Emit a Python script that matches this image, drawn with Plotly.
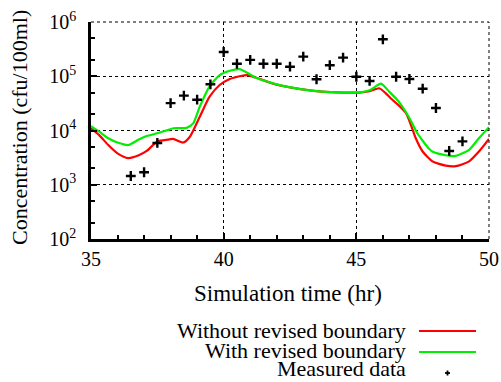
import plotly.graph_objects as go

# ---- data ----
time_without = [35.0, 35.3, 35.65, 36.0, 36.4, 36.8, 37.1, 37.5, 37.9, 38.1, 38.47, 38.72,
                39.1, 39.47, 39.85, 40.23, 40.6, 40.9, 41.2, 42.0, 42.9, 43.7, 44.5, 45.1,
                45.5, 45.86, 46.1, 46.3, 46.6, 46.87, 47.06, 47.24, 47.5, 47.87, 48.37,
                48.75, 49.25, 49.62, 50.0]
conc_without = [11000, 8300, 5400, 3800, 3100, 3500, 4200, 6300, 6800, 7000, 6000, 7600,
                18000, 42000, 69000, 89000, 100000, 105000, 95000, 70000, 58000, 52000, 50000, 50000,
                53000, 60000, 49000, 39000, 29000, 21000, 12600, 7200, 4100, 2700, 2250,
                2200, 2700, 4100, 7000]

time_with = [35.0, 35.3, 35.65, 36.0, 36.4, 36.8, 37.1, 37.5, 37.9, 38.1, 38.6, 38.85,
             39.1, 39.47, 39.85, 40.23, 40.6, 40.9, 41.2, 42.0, 42.9, 43.7, 44.5, 45.1,
             45.5, 45.93, 46.24, 46.6, 47.0, 47.3, 47.74, 47.9, 48.37, 48.75, 49.25,
             49.62, 50.0]
conc_with = [12000, 9600, 7200, 6000, 5400, 6800, 7900, 8900, 10200, 11000, 11200, 13500,
             27500, 65000, 105000, 126000, 135000, 115000, 95000, 71000, 58000, 52000, 50000, 50000,
             55000, 73000, 52000, 34000, 17000, 8900, 4600, 4000, 3500, 3400, 4400,
             7200, 11500]

time_measured = [36.5, 37.0, 37.5, 38.0, 38.5, 39.0, 39.5, 40.0, 40.5, 41.0, 41.5, 42.0, 42.5,
                 43.0, 43.5, 44.0, 44.5, 45.0, 45.5, 46.0, 46.5, 47.0, 47.5, 48.0, 48.5, 49.0]
conc_measured = [1450, 1700, 5900, 32000, 44000, 37000, 71000, 280000, 170000, 200000, 170000,
                 170000, 150000, 230000, 88000, 160000, 220000, 98000, 82000, 480000, 98000,
                 89000, 59000, 26000, 4200, 6300]

x_ticks = [35, 40, 45, 50]
x_minor = [36, 37, 38, 39, 41, 42, 43, 44, 46, 47, 48, 49]
y_ticks = [1e2, 1e3, 1e4, 1e5, 1e6]
y_ticktext = ["10<sup>2</sup>", "10<sup>3</sup>", "10<sup>4</sup>", "10<sup>5</sup>", "10<sup>6</sup>"]
y_minor = [2e2, 5e2, 2e3, 5e3, 2e4, 5e4, 2e5, 5e5]

legend_labels = ["Without revised boundary", "With revised boundary", "Measured data"]
x_title = "Simulation time (hr)"
y_title = "Concentration (cfu/100ml)"

FONT = "Liberation Serif"
RED = "#ff0000"
GREEN = "#00ee00"

fig = go.Figure()
fig.add_trace(go.Scatter(x=time_without, y=conc_without, mode="lines",
                         line=dict(color=RED, width=2.2, shape="spline", smoothing=0.6),
                         showlegend=False))
fig.add_trace(go.Scatter(x=time_with, y=conc_with, mode="lines",
                         line=dict(color=GREEN, width=2.2, shape="spline", smoothing=0.6),
                         showlegend=False))
fig.add_trace(go.Scatter(x=time_measured, y=conc_measured, mode="markers",
                         marker=dict(symbol="cross-thin", size=7, color="black",
                                     line=dict(color="black", width=2.4)),
                         showlegend=False))

fig.update_xaxes(range=[35, 50], tickvals=x_ticks, ticks="inside", ticklen=6, tickwidth=1.5,
                 tickcolor="black", showline=True, linecolor="black", linewidth=2.5,
                 showgrid=True, gridcolor="black", griddash="dot", gridwidth=1,
                 zeroline=False, automargin=False,
                 tickfont=dict(family=FONT, size=20, color="black"),
                 minor=dict(tickvals=x_minor, ticks="inside", ticklen=4, tickwidth=1.5,
                            tickcolor="black", showgrid=False))
fig.update_yaxes(type="log", range=[2, 6], tickvals=y_ticks, ticktext=y_ticktext,
                 ticks="inside", ticklen=6, tickwidth=1.5, tickcolor="black",
                 showline=True, linecolor="black", linewidth=2.5,
                 showgrid=True, gridcolor="black", griddash="dot", gridwidth=1,
                 zeroline=False, automargin=False,
                 tickfont=dict(family=FONT, size=20, color="black"),
                 ticklabelstandoff=8,
                 minor=dict(tickvals=y_minor, ticks="inside", ticklen=4, tickwidth=1.5,
                            tickcolor="black", showgrid=False))

# plot area geometry (px): x 91..489, y 22..239
def px_x(p):
    return (p - 91) / 398.0

def px_y(p):
    return (239 - p) / 217.0

annotations = [
    dict(text=x_title, x=px_x(288), y=px_y(293), xref="paper", yref="paper",
         xanchor="center", yanchor="middle", showarrow=False,
         font=dict(family=FONT, size=23, color="black")),
    dict(text=y_title, x=px_x(19), y=px_y(128), xref="paper", yref="paper",
         xanchor="center", yanchor="middle", showarrow=False, textangle=-90,
         font=dict(family=FONT, size=22, color="black")),
]
rows = [330, 350, 368]
for lab, ry in zip(legend_labels, rows):
    annotations.append(dict(text=lab, x=px_x(407), y=px_y(ry), xref="paper", yref="paper",
                            xanchor="right", yanchor="middle", showarrow=False,
                            borderpad=0,
                            font=dict(family=FONT, size=22, color="black")))

shapes = [
    # dotted top and right frame (grid at range edges)
    dict(type="line", xref="paper", yref="paper", x0=0, x1=1, y0=1, y1=1,
         line=dict(color="black", width=1, dash="dot")),
    dict(type="line", xref="paper", yref="paper", x0=1, x1=1, y0=0, y1=1,
         line=dict(color="black", width=1, dash="dot")),
    dict(type="line", xref="paper", yref="paper", x0=px_x(419), x1=px_x(476),
         y0=px_y(331), y1=px_y(331), line=dict(color=RED, width=2.2)),
    dict(type="line", xref="paper", yref="paper", x0=px_x(419), x1=px_x(476),
         y0=px_y(352), y1=px_y(352), line=dict(color=GREEN, width=2.2)),
    dict(type="line", xref="paper", yref="paper", xsizemode="pixel", ysizemode="pixel",
         xanchor=px_x(447.5), yanchor=px_y(373), x0=-2.5, x1=2.5, y0=0, y1=0,
         line=dict(color="black", width=1.8)),
    dict(type="line", xref="paper", yref="paper", xsizemode="pixel", ysizemode="pixel",
         xanchor=px_x(447.5), yanchor=px_y(373), x0=0, x1=0, y0=-2.5, y1=2.5,
         line=dict(color="black", width=1.8)),
]

fig.update_layout(width=501, height=382, margin=dict(l=91, r=12, t=22, b=143),
                  paper_bgcolor="white", plot_bgcolor="white",
                  annotations=annotations, shapes=shapes,
                  font=dict(family=FONT, color="black"))

fig.write_html("out.html")
